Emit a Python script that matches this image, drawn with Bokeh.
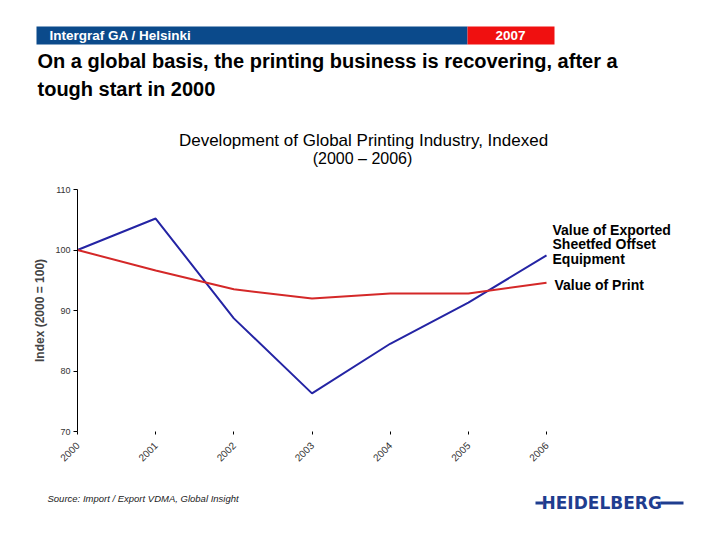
import math
from bokeh.plotting import figure
from bokeh.models import Range1d, Label, BoxAnnotation, FixedTicker
from bokeh.embed import file_html
from bokeh.resources import INLINE

# ---------------- data ----------------
years = [2000, 2001, 2002, 2003, 2004, 2005, 2006]
exported_equipment = [100.0, 105.2, 88.7, 76.3, 84.5, 91.3, 99.1]
value_of_print = [100.0, 96.6, 93.5, 92.0, 92.8, 92.8, 94.6]
y_ticks = [70, 80, 90, 100, 110]

FONT = "Liberation Sans"
BLUE_LINE = "#2424a4"
RED_LINE = "#d42828"
W, H = 712, 532

# page geometry of the data area
FL, FB = 77, 431          # x of year 2000, y of index 70
PX_YEAR = 78.17
PX_UNIT = 6.05
x_start = 2000 - FL / PX_YEAR
x_end = 2000 + (W - FL) / PX_YEAR
y_start = 70 - (H - FB) / PX_UNIT
y_end = 70 + FB / PX_UNIT

p = figure(width=W, height=H, output_backend="svg", toolbar_location=None,
           x_range=Range1d(x_start, x_end), y_range=Range1d(y_start, y_end),
           min_border=0, min_border_left=0, min_border_right=0,
           min_border_top=0, min_border_bottom=0)
p.outline_line_color = None
p.grid.visible = False

p.line(years, exported_equipment, line_color=BLUE_LINE, line_width=2)
p.line(years, value_of_print, line_color=RED_LINE, line_width=2)

# ---- axes, pinned to the data origin ----
p.yaxis.fixed_location = 2000
p.yaxis.ticker = FixedTicker(ticks=y_ticks)
p.yaxis.bounds = (70, 110)
p.yaxis.minor_tick_line_color = None
p.yaxis.major_tick_out = 4
p.yaxis.major_tick_in = 0
p.yaxis.major_label_standoff = 3
p.yaxis.major_label_text_font = FONT
p.yaxis.major_label_text_font_size = "9px"
p.yaxis.major_label_text_color = "#333333"
p.yaxis.axis_line_color = "black"
p.yaxis.axis_label = "Index (2000 = 100)"
p.yaxis.axis_label_text_font = FONT
p.yaxis.axis_label_text_font_style = "bold"
p.yaxis.axis_label_text_font_size = "12px"
p.yaxis.axis_label_standoff = 5

p.xaxis.fixed_location = 70
p.xaxis.ticker = FixedTicker(ticks=years)
p.xaxis.bounds = (2000, 2006)
p.xaxis.minor_tick_line_color = None
p.xaxis.axis_line_color = None
p.xaxis.major_tick_out = 3
p.xaxis.major_tick_in = 0
p.xaxis.major_label_orientation = math.pi / 4
p.xaxis.major_label_text_font = FONT
p.xaxis.major_label_text_font_size = "10px"
p.xaxis.major_label_text_color = "#333333"
p.xaxis.major_label_standoff = 9


def lab(text, x, y, size, style="normal", color="black", align="left", font=FONT):
    p.add_layout(Label(x=x, y=H - y, x_units="screen", y_units="screen", text=text,
                       text_font=font, text_font_size=size, text_font_style=style,
                       text_color=color, text_align=align, text_baseline="middle"))


def box(l, r, t, b, color):
    p.add_layout(BoxAnnotation(left=l, right=r, top=H - t, bottom=H - b,
                               left_units="screen", right_units="screen",
                               top_units="screen", bottom_units="screen",
                               fill_color=color, fill_alpha=1, line_color=None))


# header bar
box(36, 467, 26, 44, "#0b4a8b")
box(467, 554, 26, 44, "#f01010")
lab("Intergraf GA / Helsinki", 49, 35, "13.5px", "bold", "white")
lab("2007", 510, 35, "13.5px", "bold", "white", align="center")

# titles
lab("On a global basis, the printing business is recovering, after a", 37, 60, "20px", "bold")
lab("tough start in 2000", 37, 88, "20px", "bold")
lab("Development of Global Printing Industry, Indexed", 363, 140, "17px", align="center")
lab("(2000 \u2013 2006)", 362, 158, "16px", align="center")

# series labels
lab("Value of Exported", 552, 229, "14px", "bold")
lab("Sheetfed Offset", 552, 243, "14px", "bold")
lab("Equipment", 552, 258, "14px", "bold")
lab("Value of Print", 554, 284, "14px", "bold")

# footer
lab("Source: Import / Export VDMA, Global Insight", 47, 498, "9.5px", "italic", "#222222")
box(535, 543, 501, 504, "#1f3d8f")
lab("HEIDELBERG", 541, 502, "17px", "bold", "#1f3d8f", font="DejaVu Sans")
box(660, 683, 501, 504, "#1f3d8f")

open("out.html", "w").write(file_html(p, INLINE))
